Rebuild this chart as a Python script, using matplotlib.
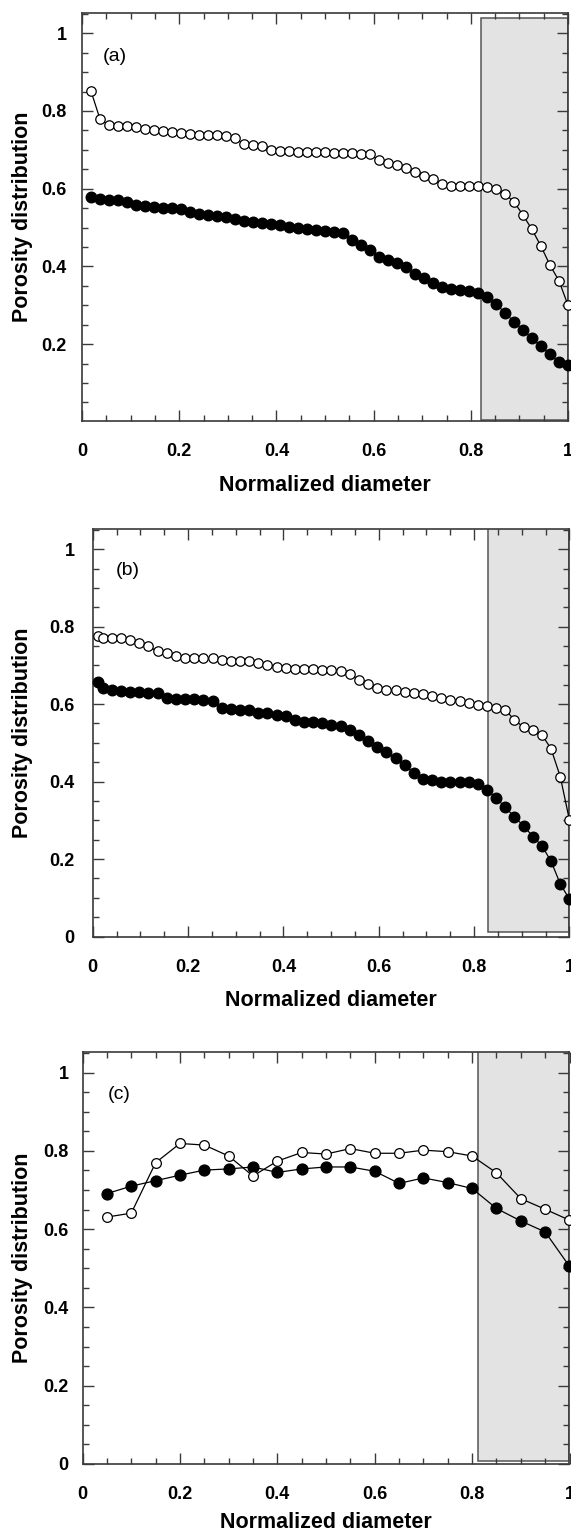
import numpy as np
import matplotlib.pyplot as plt
from matplotlib.ticker import MultipleLocator, FuncFormatter
from matplotlib.patches import Rectangle

plt.rcParams['font.family'] = ['Liberation Sans', 'DejaVu Sans']

# panel (a)
xa = np.arange(1, 55) / 54
a_open = [0.851, 0.779, 0.763, 0.762, 0.762, 0.758, 0.753, 0.751, 0.749, 0.746,
          0.744, 0.741, 0.739, 0.739, 0.738, 0.736, 0.731, 0.714, 0.712, 0.709,
          0.700, 0.697, 0.696, 0.695, 0.695, 0.695, 0.694, 0.693, 0.692, 0.691,
          0.689, 0.688, 0.673, 0.666, 0.660, 0.652, 0.643, 0.632, 0.624, 0.612,
          0.607, 0.607, 0.607, 0.606, 0.604, 0.598, 0.586, 0.566, 0.532, 0.495,
          0.452, 0.403, 0.363, 0.300]
a_fill = [0.579, 0.573, 0.572, 0.570, 0.566, 0.559, 0.556, 0.553, 0.551, 0.549,
          0.547, 0.541, 0.536, 0.533, 0.529, 0.526, 0.522, 0.518, 0.514, 0.511,
          0.509, 0.507, 0.502, 0.499, 0.496, 0.493, 0.490, 0.488, 0.486, 0.468,
          0.455, 0.443, 0.425, 0.416, 0.408, 0.399, 0.381, 0.370, 0.357, 0.348,
          0.342, 0.340, 0.336, 0.332, 0.321, 0.304, 0.280, 0.258, 0.236, 0.215,
          0.194, 0.174, 0.153, 0.146]

# panel (b)
xb = np.concatenate([[0.012], np.linspace(0.021, 1.0, 52)])
b_open = [0.775, 0.770, 0.770, 0.770, 0.766, 0.757, 0.749, 0.736, 0.731, 0.723,
          0.719, 0.719, 0.719, 0.719, 0.714, 0.710, 0.710, 0.710, 0.706, 0.702,
          0.697, 0.693, 0.690, 0.690, 0.690, 0.688, 0.688, 0.686, 0.678, 0.663,
          0.652, 0.641, 0.637, 0.637, 0.632, 0.628, 0.627, 0.621, 0.616, 0.611,
          0.607, 0.602, 0.598, 0.594, 0.590, 0.585, 0.559, 0.540, 0.532, 0.521,
          0.484, 0.413, 0.301]
b_fill = [0.656, 0.641, 0.637, 0.635, 0.632, 0.632, 0.628, 0.628, 0.615, 0.613,
          0.613, 0.613, 0.611, 0.607, 0.590, 0.587, 0.585, 0.585, 0.578, 0.577,
          0.572, 0.568, 0.559, 0.555, 0.555, 0.550, 0.546, 0.543, 0.534, 0.521,
          0.505, 0.490, 0.477, 0.460, 0.443, 0.422, 0.406, 0.403, 0.400, 0.400,
          0.400, 0.400, 0.394, 0.379, 0.357, 0.334, 0.308, 0.286, 0.258, 0.234,
          0.194, 0.136, 0.096]

# panel (c)
xc = [0.05, 0.10, 0.15, 0.20, 0.25, 0.30, 0.35, 0.40, 0.45, 0.50,
      0.55, 0.60, 0.65, 0.70, 0.75, 0.80, 0.85, 0.90, 0.95, 1.00]
c_open = [0.631, 0.641, 0.770, 0.819, 0.815, 0.787, 0.736, 0.774, 0.796, 0.792,
          0.806, 0.794, 0.794, 0.802, 0.798, 0.787, 0.744, 0.678, 0.651, 0.623]
c_fill = [0.691, 0.710, 0.724, 0.738, 0.751, 0.754, 0.759, 0.745, 0.754, 0.759,
          0.759, 0.748, 0.717, 0.731, 0.719, 0.704, 0.653, 0.621, 0.593, 0.505]

W, H = 571, 1531
fig = plt.figure(figsize=(W / 100, H / 100), dpi=100)

# axes box in pixels (left, right, top, bottom), grey zone start, its y-range, panel tag
panels = [
    dict(box=(82, 568, 13, 420.7), x=xa, op=a_open, fi=a_fill, shade=0.821,
         sy=(0.004, 1.04), tag='(a)', tx=0.043, ty=0.94, y0=0.003, ypad=11, ms=6.8, lp=10.5),
    dict(box=(92.7, 569.4, 529, 936.5), x=xb, op=b_open, fi=b_fill, shade=0.830,
         sy=(0.012, 1.06), tag='(b)', tx=0.049, ty=0.944, y0=0.0, ypad=13, ms=6.8, lp=10.5),
    dict(box=(82.6, 569.5, 1052.3, 1464), x=xc, op=c_open, fi=c_fill, shade=0.812,
         sy=(0.008, 1.06), tag='(c)', tx=0.052, ty=0.943, y0=0.0, ypad=10, ms=7.0, lp=6),
]

edge = '#3a3a3a'
for p in panels:
    l, r, t, b = p['box']
    ax = fig.add_axes([l / W, 1 - b / H, (r - l) / W, (b - t) / H])
    ax.set_xlim(0, 1)
    ax.set_ylim(p['y0'], 1.052)

    ax.add_patch(Rectangle((p['shade'], p['sy'][0]), 1 - p['shade'], p['sy'][1] - p['sy'][0],
                           facecolor='#e3e3e3', edgecolor='#555555', lw=1.1, zorder=0.5))

    ax.plot(p['x'], p['fi'], '-o', color='black', lw=0.9, ms=p['ms'] + 0.8,
            mfc='black', mec='black', zorder=3, clip_on=False)
    ax.plot(p['x'], p['op'], '-o', color='black', lw=0.9, ms=p['ms'],
            mfc='white', mec='black', mew=0.9, zorder=4, clip_on=False)

    ax.text(p['tx'], p['ty'], p['tag'], fontsize=14, ha='left', va='center',
            transform=ax.transData)

    ax.xaxis.set_major_locator(MultipleLocator(0.2))
    ax.xaxis.set_minor_locator(MultipleLocator(0.05))
    ax.yaxis.set_major_locator(MultipleLocator(0.2))
    ax.yaxis.set_minor_locator(MultipleLocator(0.05))
    fmt = FuncFormatter(lambda v, pos: '%g' % round(v, 2))
    ax.xaxis.set_major_formatter(fmt)
    ax.yaxis.set_major_formatter(fmt)

    ax.tick_params(which='both', direction='in', top=True, right=True,
                   color=edge, width=1.0)
    ax.tick_params(which='major', length=8)
    ax.tick_params(which='minor', length=4.5)
    ax.tick_params(axis='x', which='major', pad=16, labelsize=13)
    ax.tick_params(axis='y', which='major', pad=p['ypad'], labelsize=13)
    for lab in ax.get_xticklabels() + ax.get_yticklabels():
        lab.set_fontweight('bold')
    for s in ax.spines.values():
        s.set_color(edge)
        s.set_linewidth(1.2)

    ax.set_xlabel('Normalized diameter', fontsize=15.5, fontweight='bold', labelpad=p['lp'])
    ax.set_ylabel('Porosity distribution', fontsize=15.5, fontweight='bold')
    ax.yaxis.set_label_coords((33 - l) / (r - l), 0.5)

fig.savefig('out.png', dpi=100)
